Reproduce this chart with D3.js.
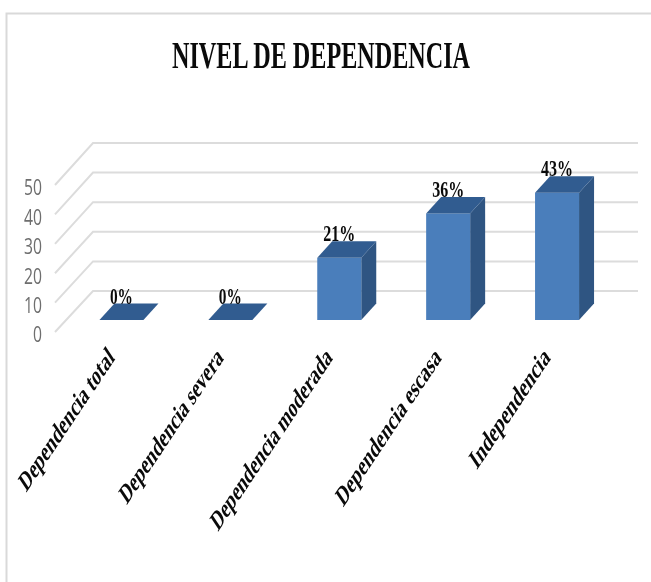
<!DOCTYPE html>
<html><head><meta charset="utf-8">
<script src="https://cdn.jsdelivr.net/npm/d3@7/dist/d3.min.js"></script>
<style>html,body{margin:0;padding:0;background:#fff}svg{display:block}</style>
</head><body><div id="c"></div>
<script>
const categories=["Dependencia total","Dependencia severa","Dependencia moderada","Dependencia escasa","Independencia"];
const values=[0,0,21,36,43];
const valueLabels=["0%","0%","21%","36%","43%"];
const yTicks=[0,10,20,30,40,50];
const titleText="NIVEL DE DEPENDENCIA";
const labelLengths=[126,138,163,140,105];

const W=651,H=582,serif="'Liberation Serif','Times New Roman',serif";
const svg=d3.select("#c").append("svg").attr("width",W).attr("height",H).style("filter","blur(0.35px)");

// chart frame
svg.append("path").attr("d",`M6.5,${H}V13.5H${W}`).attr("fill","none").attr("stroke","#d9d9d9").attr("stroke-width",2);

svg.append("text").attr("x",321).attr("y",68).attr("text-anchor","middle")
  .attr("font-family",serif).attr("font-weight",700).attr("font-size",38).attr("fill","#0a0a0a")
  .attr("textLength",298).attr("lengthAdjust","spacingAndGlyphs").text(titleText);

// scales
const x=d3.scaleBand().domain(categories).range([67,611.5]).paddingInner(0.596).paddingOuter(0.298);
const yBar=d3.scaleLinear().domain([0,50]).range([320,172]);
const yBack=d3.scaleLinear().domain([0,50]).range([291,143]);
const yFront=d3.scaleLinear().domain([0,50]).range([332,185]);
const wallX0=55,wallX1=93,wallX2=638,dx=15,dy=16.5;

// gridlines on floor + back wall
svg.append("g").selectAll("path").data(yTicks).join("path")
  .attr("d",d=>`M${wallX0},${yFront(d)}L${wallX1},${yBack(d)}H${wallX2}`)
  .attr("fill","none").attr("stroke","#dcdcdc").attr("stroke-width",2);

// y axis
const yAxis=svg.append("g").attr("transform","translate(42,2)")
  .call(d3.axisLeft(yFront).tickValues(yTicks).tickSize(0).tickPadding(0));
yAxis.select(".domain").remove();
yAxis.selectAll("text").attr("font-family","'Open Sans',sans-serif").attr("font-size",22)
  .attr("fill","#6e6e6e").attr("dy","0.36em")
  .each(function(d){d3.select(this).attr("textLength",d===0?9:18).attr("lengthAdjust","spacingAndGlyphs");});

// 3D bars
const bars=svg.append("g").selectAll("g").data(categories.map((c,i)=>({c,v:values[i],l:valueLabels[i]}))).join("g");
const bw=x.bandwidth();
bars.append("path").attr("fill","#2f5582")
  .attr("d",d=>{const a=x(d.c)+bw,t=yBar(d.v),b=yBar(0);return `M${a},${t}l${dx},${-dy}V${b-dy}L${a},${b}Z`;});
bars.append("rect").attr("fill","#4a7ebb")
  .attr("x",d=>x(d.c)).attr("y",d=>yBar(d.v)).attr("width",bw).attr("height",d=>yBar(0)-yBar(d.v));
bars.append("path").attr("fill","#315c90")
  .attr("d",d=>{const a=x(d.c),t=yBar(d.v);return `M${a},${t}l${dx},${-dy}h${bw}l${-dx},${dy}Z`;});
bars.append("text").attr("x",d=>x(d.c)+bw/2).attr("y",d=>yBar(d.v)-dy).attr("text-anchor","middle")
  .attr("font-family",serif).attr("font-weight",700).attr("font-size",24).attr("fill","#0a0a0a")
  .attr("textLength",d=>d.l.length===2?23:32).attr("lengthAdjust","spacingAndGlyphs").text(d=>d.l);

// category labels (stretched 45° text, as in the reference)
const xAxis=svg.append("g").attr("transform","translate(0,352)").call(d3.axisBottom(x).tickSize(0));
xAxis.select(".domain").remove();
xAxis.selectAll("text")
  .attr("font-family",serif).attr("font-weight",700).attr("font-size",19).attr("fill","#0a0a0a")
  .attr("text-anchor","end").attr("y",0).attr("dy",0)
  .attr("textLength",(d,i)=>labelLengths[i]).attr("lengthAdjust","spacingAndGlyphs")
  .attr("transform","translate(-6,7) scale(1,1.5) rotate(-45)");
</script></body></html>
